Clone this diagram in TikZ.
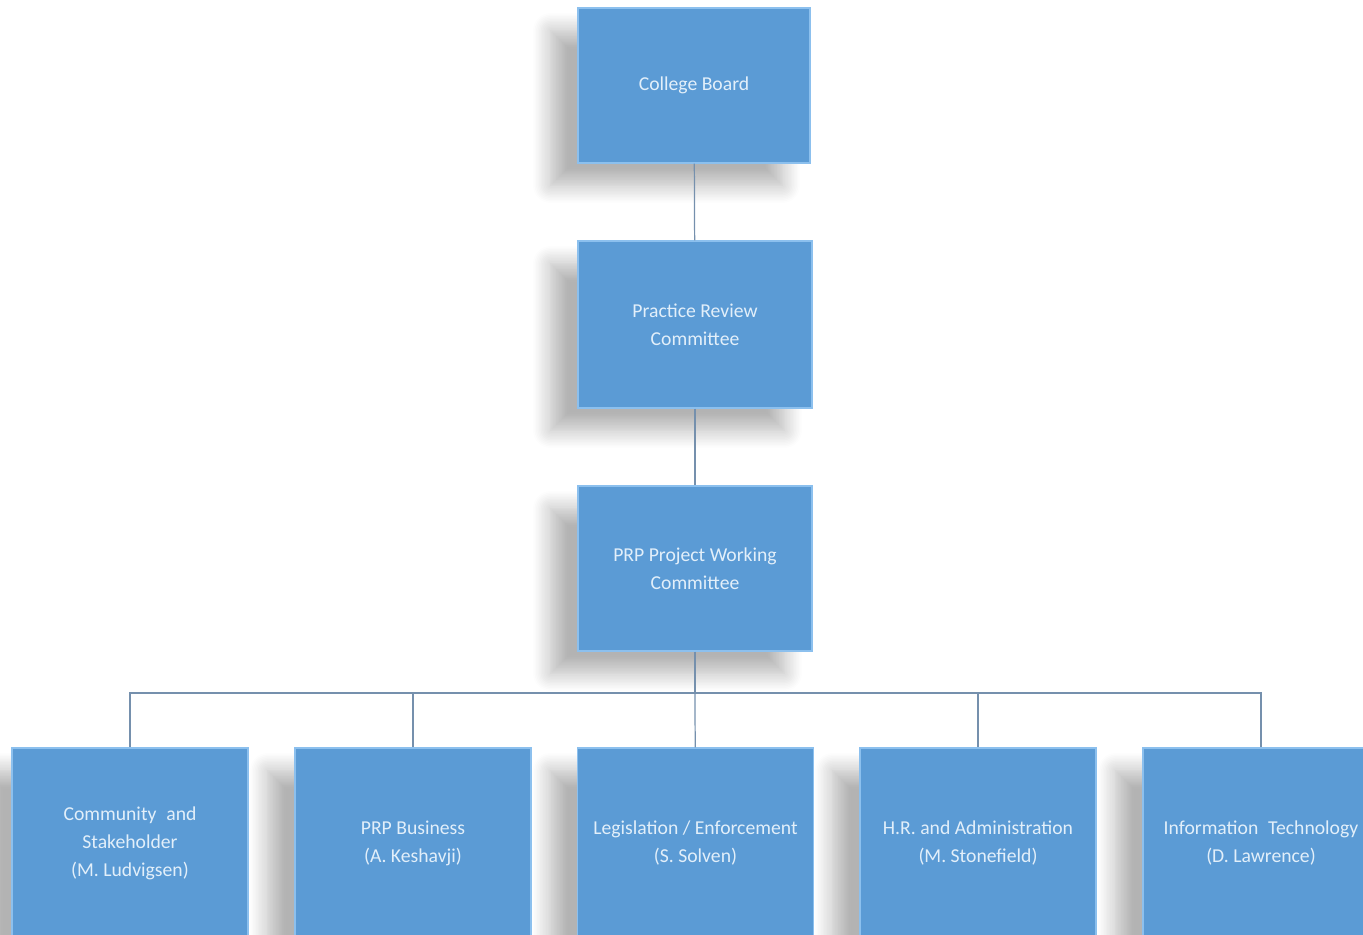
\documentclass[tikz,border=0pt]{standalone}
\usepackage{fontspec}
\setmainfont{Carlito}
\usetikzlibrary{shadows.blur}

\definecolor{boxblue}{HTML}{5B9BD5}
\definecolor{boxedge}{HTML}{8CC0EE}
\definecolor{boxtext}{HTML}{E2EFFA}
\definecolor{linkgray}{HTML}{7590AD}

\begin{document}
\begin{tikzpicture}[x=0.02cm, y=-0.02cm,
    unit/.style={rectangle, draw=boxedge, line width=0.8pt, fill=boxblue,
        text=boxtext, align=center, inner sep=2pt,
        font=\fontsize{11.2}{16}\selectfont,
        blur shadow={shadow xshift=-0.55cm, shadow yshift=-0.45cm,
            shadow blur radius=0.35cm, shadow blur steps=12,
            shadow opacity=30}},
    edge/.style={draw=linkgray, line width=0.7pt}
]
    \useasboundingbox (0,0) rectangle (1363,935);
    \clip (0,0) rectangle (1363,935);
    \node[unit, minimum width=4.64cm, minimum height=3.1cm] (board) at (694,85.5) {College Board};
    \node[unit, minimum width=4.68cm, minimum height=3.34cm] (review) at (695,324.5) {Practice Review\\Committee};
    \node[unit, minimum width=4.68cm, minimum height=3.3cm] (working) at (695,568.5) {PRP Project Working\\Committee};
    \coordinate (bus) at (695,693);
    \node[unit, minimum width=4.72cm, minimum height=3.8cm] (community) at (130,843) {Community\enspace and\\Stakeholder\\(M. Ludvigsen)};
    \node[unit, minimum width=4.72cm, minimum height=3.8cm] (business) at (413,843) {PRP Business\\(A. Keshavji)};
    \node[unit, minimum width=4.72cm, minimum height=3.8cm] (legislation) at (695.5,843) {Legislation / Enforcement\\(S. Solven)};
    \node[unit, minimum width=4.72cm, minimum height=3.8cm] (hradmin) at (978,843) {H.R. and Administration\\(M. Stonefield)};
    \node[unit, minimum width=4.72cm, minimum height=3.8cm] (infotech) at (1261,843) {Information\enspace Technology\\(D. Lawrence)};
    \draw[edge] (board) -- (review);
    \draw[edge] (review) -- (working);
    \draw[edge] (working) -- (bus);
    \draw[edge] (bus) -| (community);
    \draw[edge] (bus) -| (business);
    \draw[edge] (bus) -- (legislation);
    \draw[edge] (bus) -| (hradmin);
    \draw[edge] (bus) -| (infotech);
\end{tikzpicture}
\end{document}
